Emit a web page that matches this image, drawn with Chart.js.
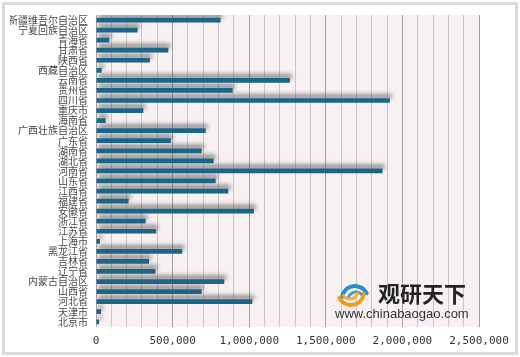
<!DOCTYPE html>
<html><head><meta charset="utf-8">
<script src="https://cdn.jsdelivr.net/npm/chart.js@4/dist/chart.umd.min.js"></script>
<style>html,body{margin:0;padding:0;background:#fff}#wrap{width:520px;height:357px;position:relative}</style>
</head><body><div id="wrap"><canvas id="c" width="520" height="357"></canvas></div>
<script>
// Categories in standard order (drawn bottom-up)
const provinces = ['北京市','天津市','河北省','山西省','内蒙古自治区','辽宁省','吉林省','黑龙江省','上海市','江苏省','浙江省','安徽省','福建省','江西省','山东省','河南省','湖北省','湖南省','广东省','广西壮族自治区','海南省','重庆市','四川省','贵州省','云南省','西藏自治区','陕西省','甘肃省','青海省','宁夏回族自治区','新疆维吾尔自治区'];
const values = [20000,33000,1020000,690000,837000,389000,346000,563000,26000,393000,324000,1031000,213000,863000,781000,1870000,768000,690000,489000,716000,63000,309000,1918000,892000,1266000,37000,352000,472000,87000,272000,813000];
const xTickValues = [0,500000,1000000,1500000,2000000,2500000];
const xTickLabels = ['0','500,000','1,000,000','1,500,000','2,000,000','2,500,000'];
const watermarkTitle = '观研天下';
const watermarkUrl = 'www.chinabaogao.com';

const framePlugin = {
  id:'frame',
  beforeDraw(chart){
    const ctx=chart.ctx, a=chart.chartArea;
    ctx.save();
    ctx.fillStyle='#fff'; ctx.fillRect(0,0,chart.width,chart.height);
    ctx.strokeStyle='#dadada'; ctx.lineWidth=3;
    ctx.strokeRect(3.5,3.5,chart.width-7,chart.height-7);
    ctx.fillStyle='#f8f1f1';
    ctx.fillRect(a.left,a.top,a.right-a.left,a.bottom-a.top);
    ctx.restore();
  },
  beforeDatasetDraw(chart){
    const ctx=chart.ctx;
    ctx.save();
    ctx.shadowColor='rgba(70,70,70,0.6)';
    ctx.shadowBlur=4;
    ctx.shadowOffsetX=2;
    ctx.shadowOffsetY=-4;
  },
  afterDatasetDraw(chart){ chart.ctx.restore(); },
  afterDatasetsDraw(chart){
    const ctx=chart.ctx;
    ctx.save();
    const cx=352, cy=295;
    ctx.lineCap='round';
    ctx.strokeStyle='#2a8fc4'; ctx.lineWidth=4;
    ctx.beginPath(); ctx.arc(cx+3,cy+4,13,Math.PI*1.05,Math.PI*1.85); ctx.stroke();
    ctx.strokeStyle='#4a9bc9'; ctx.lineWidth=3;
    ctx.beginPath(); ctx.arc(cx+4,cy+5,8,Math.PI*1.1,Math.PI*1.8); ctx.stroke();
    ctx.strokeStyle='#f29a1f'; ctx.lineWidth=4;
    ctx.beginPath(); ctx.arc(cx-1,cy-3,13,Math.PI*0.05,Math.PI*0.85); ctx.stroke();
    ctx.strokeStyle='#f5b040'; ctx.lineWidth=3;
    ctx.beginPath(); ctx.arc(cx-2,cy-4,8,Math.PI*0.1,Math.PI*0.8); ctx.stroke();
    ctx.fillStyle='#222';
    ctx.font='bold 22px "Noto Sans CJK SC"';
    ctx.textBaseline='middle'; ctx.textAlign='left';
    ctx.fillText(watermarkTitle,378,294);
    ctx.fillStyle='#333';
    ctx.font='13px "Liberation Sans"';
    ctx.fillText(watermarkUrl,335,314);
    ctx.restore();
  }
};

new Chart(document.getElementById('c'),{
  type:'bar',
  data:{labels:provinces,datasets:[{data:values,backgroundColor:'#1b6588',borderWidth:0,barPercentage:0.47,categoryPercentage:1}]},
  options:{
    indexAxis:'y',responsive:false,animation:false,
    layout:{padding:{left:10,right:41,top:15,bottom:1}},
    plugins:{legend:{display:false},tooltip:{enabled:false}},
    scales:{
      x:{min:0,max:2500000,
        afterBuildTicks(s){const t=[];for(let v=0;v<=2500000;v+=100000)t.push({value:v});s.ticks=t;},
        ticks:{autoSkip:false,maxRotation:0,padding:8,color:'#333',font:{family:'"DejaVu Sans Mono"',size:11},
          callback(v){const i=xTickValues.indexOf(v);return i>=0?xTickLabels[i]:'';}},
        grid:{drawTicks:false,color(c){return c.tick && c.tick.value%500000===0?'#a9a1a1':'#cdc5c5';},lineWidth:1},
        border:{display:false}
      },
      y:{reverse:true,
        afterFit(s){s.width=86;},
        ticks:{autoSkip:false,padding:8,color:'#4a4a4a',font:{family:'"Noto Sans CJK SC"',size:10}},
        grid:{display:false,drawTicks:false},
        border:{display:true,color:'#b0a8a8'}
      }
    }
  },
  plugins:[framePlugin]
});
</script></body></html>
